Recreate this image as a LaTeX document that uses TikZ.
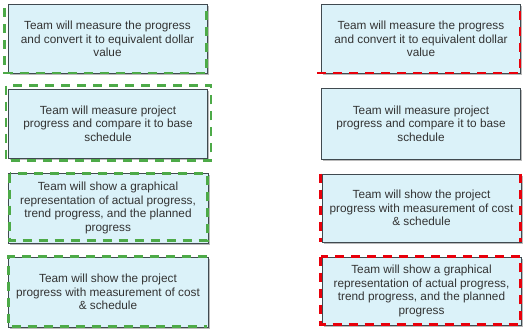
\documentclass[tikz,border=0pt]{standalone}
\usepackage{fontspec}
\setmainfont{Liberation Sans}
\usetikzlibrary{shadows}
\definecolor{boxfill}{HTML}{DBF2F9}
\definecolor{boxline}{HTML}{404A50}
\definecolor{txt}{HTML}{333333}
\definecolor{gdash}{HTML}{4DAA48}
\definecolor{rdash}{HTML}{E8000B}
\tikzset{
  card/.style={draw=boxline, line width=0.9pt, fill=boxfill, minimum width=199pt, minimum height=69pt,
    inner sep=0pt, align=center, text=txt, font=\fontsize{11.8}{13.4}\selectfont,
    drop shadow={shadow xshift=1.5pt, shadow yshift=-1.5pt, fill=black!45, opacity=0.6}},
  gmark/.style={draw=gdash, line width=2.2pt, dash pattern=on 9pt off 7pt},
  rmark/.style={draw=rdash, line width=2.2pt, dash pattern=on 9pt off 7pt}
}
\begin{document}
\begin{tikzpicture}[x=1pt,y=-1pt]
\useasboundingbox (0,0) rectangle (528,333);
% left column
\node[card] (L1) at (107.5,39) {Team will measure the progress\\and convert it to equivalent dollar\\value};
\node[card] (L2) at (108,123.5) {Team will measure project\\progress and compare it to base\\schedule};
\node[card, minimum width=200pt, minimum height=70pt] (L3) at (108,208) {Team will show a graphical\\representation of actual progress,\\trend progress, and the planned\\progress};
\node[card, minimum width=200pt, minimum height=70pt] (L4) at (108,292) {Team will show the project\\progress with measurement of cost\\\& schedule};
% right column
\node[card] (R1) at (421,39) {Team will measure the progress\\and convert it to equivalent dollar\\value};
\node[card, minimum height=71pt] (R2) at (421,123.5) {Team will measure project\\progress and compare it to base\\schedule};
\node[card, minimum height=68pt] (R3) at (421.5,208) {Team will show the project\\progress with measurement of cost\\\& schedule};
\node[card, minimum height=68pt] (R4) at (421.5,291) {Team will show a graphical\\representation of actual progress,\\trend progress, and the planned\\progress};
% green dashed markings
\draw[gmark] ([shift={(-3,4)}]L1.north west) -- ([shift={(-3,-1)}]L1.south west) -- ([shift={(-1,-1)}]L1.south east) -- ([shift={(-1,0)}]L1.north east);
\draw[gmark] ([shift={(-2,-3)}]L2.north west) rectangle ([shift={(3,2)}]L2.south east);
\draw[gmark] ([shift={(2,1)}]L3.north west) rectangle ([shift={(-1,-3)}]L3.south east);
\draw[gmark] ([shift={(-1,0)}]L4.north east) -- ([shift={(1,0)}]L4.north west) -- ([shift={(1,-1)}]L4.south west) -- ([shift={(-1,-1)}]L4.south east);
% red dashed markings
\draw[rmark] ([shift={(-4,-1)}]R1.south west) -- ([shift={(-1,-1)}]R1.south east) -- ([shift={(-1,0)}]R1.north east);
\draw[rmark] ([shift={(-1,0)}]R3.north west) -- ([shift={(-1,0)}]R3.south west);
\draw[rmark] ([shift={(-1,0)}]R3.north east) -- ([shift={(-1,0)}]R3.south east);
\draw[rmark] ([shift={(-1,0)}]R4.north west) rectangle ([shift={(-1,-1)}]R4.south east);
\end{tikzpicture}
\end{document}
